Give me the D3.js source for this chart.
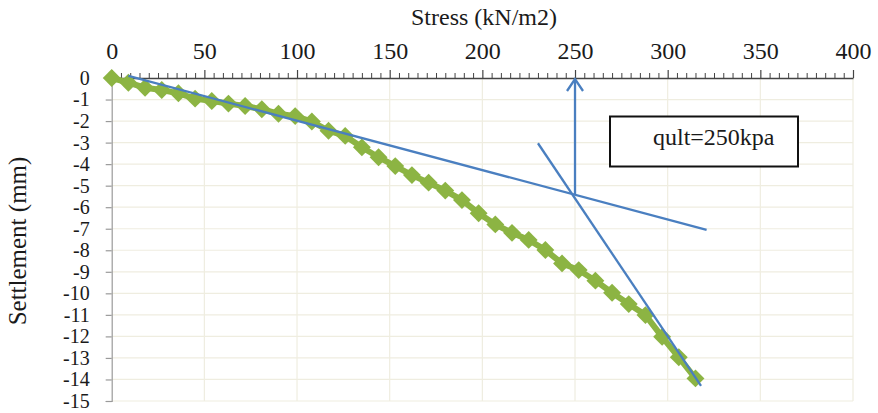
<!DOCTYPE html>
<html>
<head>
<meta charset="utf-8">
<script src="https://cdn.jsdelivr.net/npm/d3@7"></script>
<style>
  html, body { margin: 0; padding: 0; background: #fff; }
  svg { display: block; }
  svg text { font-family: "Liberation Serif", Tinos, "Times New Roman", "DejaVu Serif", serif; }
</style>
</head>
<body>
<svg id="chart" width="878" height="413"></svg>
<script>
// Plate load test: applied stress vs settlement
const stress = [0, 9, 18, 27, 36, 45, 54, 63, 72, 81, 90, 99, 108, 117, 126, 135, 144, 153,
                162, 171, 180, 189, 198, 207, 216, 225, 234, 243, 252, 261, 270, 279, 288, 297, 306, 315];
const settlement = [0, -0.22, -0.45, -0.56, -0.71, -0.96, -1.07, -1.19, -1.30, -1.45, -1.66, -1.77,
                    -2.02, -2.45, -2.69, -3.22, -3.68, -4.09, -4.51, -4.86, -5.23, -5.67, -6.28, -6.80,
                    -7.19, -7.52, -7.99, -8.61, -8.92, -9.41, -9.97, -10.50, -11.01, -12.02, -12.97, -13.95];

// Tangent lines (initial and final portions of the curve)
const tangentInitial = [[9, 0.1], [321, -7.05]];
const tangentFinal = [[230, -3.03], [318, -14.3]];

// Ultimate bearing capacity marker
const qult = 250;
const qultSettlement = -5.4;
const qultLabel = "qult=" + qult + "kpa";

const xTicks = [0, 50, 100, 150, 200, 250, 300, 350, 400];
const xTickLabels = ["0", "50", "100", "150", "200", "250", "300", "350", "400"];
const yTicks = [0, -1, -2, -3, -4, -5, -6, -7, -8, -9, -10, -11, -12, -13, -14, -15];
const yTickLabels = ["0", "-1", "-2", "-3", "-4", "-5", "-6", "-7", "-8", "-9", "-10", "-11", "-12", "-13", "-14", "-15"];

const xTitle = "Stress (kN/m2)";
const yTitle = "Settlement (mm)";

const serif = '"Liberation Serif", Tinos, "Times New Roman", "DejaVu Serif", serif';
const svg = d3.select("#chart");
const plotLeft = 111.7, plotRight = 853, plotTop = 78, plotBottom = 401;

const x = d3.scaleLinear().domain([0, 400]).range([plotLeft, plotRight]);
const y = d3.scaleLinear().domain([0, -15]).range([plotTop, plotBottom]);

// Gridlines
const grid = svg.append("g").attr("stroke", "#efede0").attr("stroke-width", 1.2);
grid.selectAll("line.h").data(yTicks.slice(1)).join("line")
  .attr("x1", plotLeft).attr("x2", plotRight)
  .attr("y1", d => y(d)).attr("y2", d => y(d));
grid.selectAll("line.v").data(xTicks.slice(1)).join("line")
  .attr("y1", plotTop).attr("y2", plotBottom)
  .attr("x1", d => x(d)).attr("x2", d => x(d));

// Left axis
const yAxis = d3.axisLeft(y).tickValues(yTicks).tickSize(6).tickPadding(16)
  .tickFormat((d, i) => yTickLabels[i]);
const gy = svg.append("g").attr("transform", `translate(${plotLeft},0)`).call(yAxis)
  .attr("font-family", serif);
gy.select(".domain").attr("stroke", "#9a9a9a").attr("stroke-width", 1.2);
gy.selectAll(".tick line").attr("stroke", "#9a9a9a").attr("stroke-width", 1.2);
gy.selectAll(".tick text").attr("font-size", 20).attr("fill", "#1a1a1a")
  .style("font-family", serif);

// Top axis: minor ticks every 5, major every 50
const minorTicks = d3.range(0, 401, 5).filter(v => v % 50 !== 0);
const gxMinor = svg.append("g").attr("transform", `translate(0,${plotTop})`)
  .call(d3.axisTop(x).tickValues(minorTicks).tickSize(5).tickFormat(""));
gxMinor.select(".domain").remove();
gxMinor.selectAll(".tick line").attr("stroke", "#444").attr("stroke-width", 1);

const gx = svg.append("g").attr("transform", `translate(0,${plotTop})`)
  .call(d3.axisTop(x).tickValues(xTicks).tickSize(8).tickSizeOuter(0).tickPadding(11)
    .tickFormat((d, i) => xTickLabels[i]))
  .attr("font-family", serif);
gx.select(".domain").attr("stroke", "#444").attr("stroke-width", 1.3);
gx.selectAll(".tick line").attr("stroke", "#444").attr("stroke-width", 1.2);
gx.selectAll(".tick text").attr("font-size", 24).attr("fill", "#1a1a1a")
  .style("font-family", serif);

// Axis titles
svg.append("text").attr("x", 484).attr("y", 25).attr("text-anchor", "middle")
  .style("font-family", serif).attr("font-size", 24).attr("fill", "#1a1a1a").text(xTitle);
svg.append("text").attr("transform", "translate(26,241) rotate(-90)")
  .style("font-family", serif).attr("text-anchor", "middle").attr("font-size", 25)
  .attr("fill", "#1a1a1a").text(yTitle);

// Measured curve
const pts = stress.map((s, i) => [s, settlement[i]]);
const green = "#8cb443";
svg.append("path").datum(pts)
  .attr("fill", "none").attr("stroke", green).attr("stroke-width", 6)
  .attr("d", d3.line().x(d => x(d[0])).y(d => y(d[1])));
svg.append("g").selectAll("path").data(pts).join("path")
  .attr("transform", d => `translate(${x(d[0])},${y(d[1])}) rotate(45)`)
  .attr("d", d3.symbol(d3.symbolSquare, 160))
  .attr("fill", green);

// Tangent construction
const blue = "#4a7fc0";
const lineGen = d3.line().x(d => x(d[0])).y(d => y(d[1]));
[tangentInitial, tangentFinal].forEach(seg => {
  svg.append("path").datum(seg).attr("d", lineGen)
    .attr("fill", "none").attr("stroke", blue).attr("stroke-width", 2.3);
});

// Vertical arrow at qult
const ax = x(qult);
svg.append("line").attr("x1", ax).attr("x2", ax)
  .attr("y1", y(qultSettlement)).attr("y2", y(0) + 1)
  .attr("stroke", blue).attr("stroke-width", 2.3);
svg.append("path")
  .attr("d", `M${ax - 8},${y(0) + 13} L${ax},${y(0) + 1} L${ax + 8},${y(0) + 13}`)
  .attr("fill", "none").attr("stroke", blue).attr("stroke-width", 2.3);

// Annotation box
svg.append("rect").attr("x", 610).attr("y", 116.5).attr("width", 188).attr("height", 50)
  .attr("fill", "#fff").attr("stroke", "#111").attr("stroke-width", 2);
svg.append("text").attr("x", 653).attr("y", 145).style("font-family", serif)
  .attr("font-size", 24).attr("fill", "#1a1a1a").text(qultLabel);
</script>
</body>
</html>
